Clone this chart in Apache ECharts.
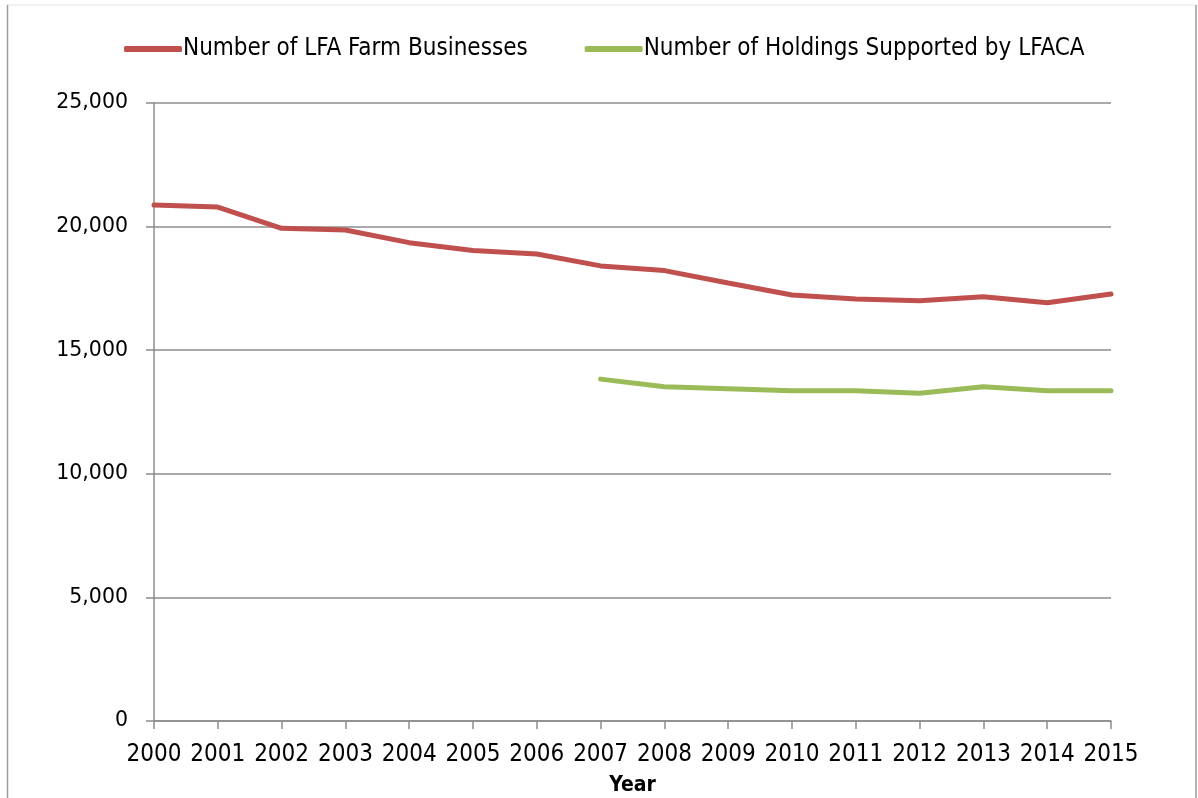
<!DOCTYPE html>
<html>
<head>
<meta charset="utf-8">
<script src="https://cdn.jsdelivr.net/npm/echarts@6/dist/echarts.min.js"></script>
<style>
  html, body { margin: 0; padding: 0; background: #fff; }
  #main { width: 1198px; height: 798px; }
</style>
</head>
<body>
<div id="main"></div>
<script>
const years = ['2000', '2001', '2002', '2003', '2004', '2005', '2006', '2007',
               '2008', '2009', '2010', '2011', '2012', '2013', '2014', '2015'];
const farmBusinesses = [20870, 20790, 19930, 19860, 19350, 19030, 18890, 18410,
                        18220, 17720, 17230, 17070, 17000, 17160, 16920, 17270];
const holdingsSupported = [null, null, null, null, null, null, null, 13830,
                           13520, 13440, 13360, 13360, 13260, 13520, 13360, 13360];
const yTicks = { min: 0, max: 25000, interval: 5000 };

const narrow = '"DejaVu Sans Condensed", "DejaVu Sans", sans-serif';
const axisGrey = '#8c8c8c';

const chart = echarts.init(document.getElementById('main'));

chart.setOption({
  animation: false,
  backgroundColor: '#fff',
  grid: { left: 154, right: 87, top: 103, bottom: 77, outerBoundsMode: 'none' },
  legend: {
    top: 37,
    left: 124,
    padding: 0,
    itemWidth: 58,
    itemHeight: 6,
    itemGap: 57,
    icon: 'roundRect',
    textStyle: { fontFamily: narrow, fontSize: 24, color: '#000', padding: [0, 0, 0, -4] },
    data: ['Number of LFA Farm Businesses', 'Number of Holdings Supported by LFACA']
  },
  xAxis: {
    type: 'category',
    data: years,
    boundaryGap: false,
    name: 'Year',
    nameLocation: 'middle',
    nameGap: 54,
    nameTextStyle: { fontFamily: narrow, fontSize: 21, fontWeight: 'bold', color: '#000' },
    axisLine: { lineStyle: { color: axisGrey, width: 1.5 } },
    axisTick: { interval: 0, length: 8, lineStyle: { color: axisGrey, width: 1.5 } },
    axisLabel: { interval: 0, margin: 22, fontFamily: narrow, fontSize: 24, color: '#000' }
  },
  yAxis: {
    type: 'value',
    min: yTicks.min,
    max: yTicks.max,
    interval: yTicks.interval,
    axisLine: { show: true, lineStyle: { color: axisGrey, width: 1.5 } },
    axisTick: { show: true, length: 8, lineStyle: { color: axisGrey, width: 1.5 } },
    splitLine: { lineStyle: { color: axisGrey, width: 1.5 } },
    axisLabel: {
      margin: 26,
      fontFamily: '"DejaVu Sans", sans-serif',
      fontSize: 20.5,
      color: '#000',
      formatter: v => v.toLocaleString('en-US')
    }
  },
  series: [
    {
      name: 'Number of LFA Farm Businesses',
      type: 'line',
      data: farmBusinesses,
      showSymbol: false,
      symbol: 'none',
      color: '#C0504D',
      lineStyle: { width: 5, color: '#C0504D', cap: 'round' }
    },
    {
      name: 'Number of Holdings Supported by LFACA',
      type: 'line',
      data: holdingsSupported,
      showSymbol: false,
      symbol: 'none',
      color: '#9BBB59',
      lineStyle: { width: 5, color: '#9BBB59', cap: 'round' }
    }
  ],
  graphic: [
    // outer chart frame
    { type: 'line', shape: { x1: 7, y1: 5, x2: 1196, y2: 5 }, style: { stroke: '#e4e4e4', lineWidth: 1 } },
    { type: 'line', shape: { x1: 7.5, y1: 5, x2: 7.5, y2: 798 }, style: { stroke: '#9a9a9a', lineWidth: 1.5 } },
    { type: 'line', shape: { x1: 1196, y1: 5, x2: 1196, y2: 798 }, style: { stroke: '#9a9a9a', lineWidth: 1.5 } }
  ]
});

window.addEventListener('resize', () => chart.resize());
</script>
</body>
</html>
